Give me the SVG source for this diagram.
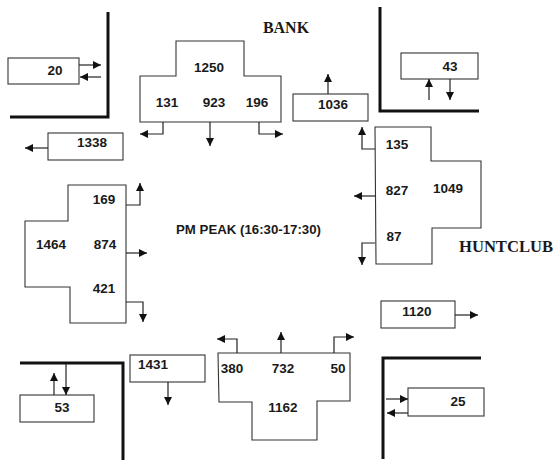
<svg xmlns="http://www.w3.org/2000/svg" width="556" height="461" viewBox="0 0 556 461">
<defs>
<style>
.box{fill:#fff;stroke:#333;stroke-width:1.1}
.wall{fill:none;stroke:#111;stroke-width:3}
.arr{fill:none;stroke:#222;stroke-width:1.2;marker-end:url(#ah)}
.num{font-family:"Liberation Sans",Arial,sans-serif;font-weight:bold;font-size:13.5px;fill:#1a1a1a;text-anchor:middle}
.road{font-family:"Liberation Serif","Times New Roman",serif;font-weight:bold;font-size:16px;fill:#1a1a1a;text-anchor:middle}
.title{font-family:"Liberation Sans",Arial,sans-serif;font-weight:bold;font-size:13px;fill:#1a1a1a}
</style>
<marker id="ah" markerUnits="userSpaceOnUse" markerWidth="9" markerHeight="8" refX="8" refY="4" orient="auto">
<path d="M0,0 L8,4 L0,8 z" fill="#111"/>
</marker>
</defs>
<rect width="556" height="461" fill="#fff"/>

<g id="walls">
<path class="wall" d="M108,12 V117 H10"/>
<path class="wall" d="M380,7 V111 H479"/>
<path class="wall" d="M20,363 H123 V460"/>
<path class="wall" d="M383,459 V358 H481"/>
</g>

<g id="labels">
<text class="road" x="286" y="33">BANK</text>
<text class="road" x="506" y="252" textLength="94" lengthAdjust="spacingAndGlyphs">HUNTCLUB</text>
<text class="title" x="176" y="234" textLength="145" lengthAdjust="spacingAndGlyphs">PM PEAK (16:30-17:30)</text>
</g>

<g id="node-20">
<rect class="box" x="8" y="58" width="71" height="26"/>
<text class="num" x="55" y="75">20</text>
</g>
<g id="node-1338">
<rect class="box" x="48" y="133" width="75" height="27"/>
<text class="num" x="92" y="147">1338</text>
</g>
<g id="node-bank-north">
<polygon class="box" points="176,41 244,41 244,76 281,76 281,122 140,122 140,76 176,76"/>
<text class="num" x="209" y="72">1250</text>
<text class="num" x="167" y="107">131</text>
<text class="num" x="214" y="107">923</text>
<text class="num" x="257" y="107">196</text>
</g>
<g id="node-1036">
<rect class="box" x="293" y="94" width="75" height="27"/>
<text class="num" x="333" y="109">1036</text>
</g>
<g id="node-43">
<rect class="box" x="401" y="53" width="77" height="26"/>
<text class="num" x="450" y="71">43</text>
</g>
<g id="node-huntclub-east">
<polygon class="box" points="375,127 431,127 431,161 481,161 481,228 432,228 432,264 376,264"/>
<text class="num" x="397" y="149">135</text>
<text class="num" x="397" y="195">827</text>
<text class="num" x="448" y="193">1049</text>
<text class="num" x="394" y="241">87</text>
</g>
<g id="node-1120">
<rect class="box" x="381" y="301" width="74" height="27"/>
<text class="num" x="417" y="316">1120</text>
</g>
<g id="node-huntclub-west">
<polygon class="box" points="68,185 126,185 126,323 70,323 70,287 25,287 25,221 68,221"/>
<text class="num" x="104" y="204">169</text>
<text class="num" x="51" y="249">1464</text>
<text class="num" x="105" y="249">874</text>
<text class="num" x="104" y="293">421</text>
</g>
<g id="node-53">
<rect class="box" x="20" y="395" width="74" height="27"/>
<text class="num" x="62" y="412">53</text>
</g>
<g id="node-1431">
<rect class="box" x="130" y="355" width="75" height="27"/>
<text class="num" x="153" y="369">1431</text>
</g>
<g id="node-bank-south">
<polygon class="box" points="218,353 350,353 350,401 317,401 317,440 252,440 252,402 219,402"/>
<text class="num" x="232" y="373">380</text>
<text class="num" x="283" y="373">732</text>
<text class="num" x="338" y="373">50</text>
<text class="num" x="283" y="412">1162</text>
</g>
<g id="node-25">
<rect class="box" x="408" y="388" width="76" height="28"/>
<text class="num" x="458" y="406">25</text>
</g>

<g id="connectors">
<path class="arr" d="M79,65 H101"/>
<path class="arr" d="M101,77 H80"/>
<path class="arr" d="M48,148 H25"/>
<path class="arr" d="M163,122 V134 H140"/>
<path class="arr" d="M210,122 V146"/>
<path class="arr" d="M259,122 V134 H283"/>
<path class="arr" d="M328,94 V74"/>
<path class="arr" d="M429,100 V79"/>
<path class="arr" d="M450,79 V100"/>
<path class="arr" d="M375,149 H362 V127"/>
<path class="arr" d="M375,196 H354"/>
<path class="arr" d="M375,243 H362 V265"/>
<path class="arr" d="M455,315 H478"/>
<path class="arr" d="M126,205 H140 V183"/>
<path class="arr" d="M126,253 H147"/>
<path class="arr" d="M126,302 H143 V322"/>
<path class="arr" d="M54,395 V373"/>
<path class="arr" d="M66,364 V395"/>
<path class="arr" d="M168,382 V405"/>
<path class="arr" d="M237,353 V339 H217"/>
<path class="arr" d="M281,353 V332"/>
<path class="arr" d="M334,353 V337 H354"/>
<path class="arr" d="M386,399 H408"/>
<path class="arr" d="M408,413 H387"/>
</g>
</svg>
